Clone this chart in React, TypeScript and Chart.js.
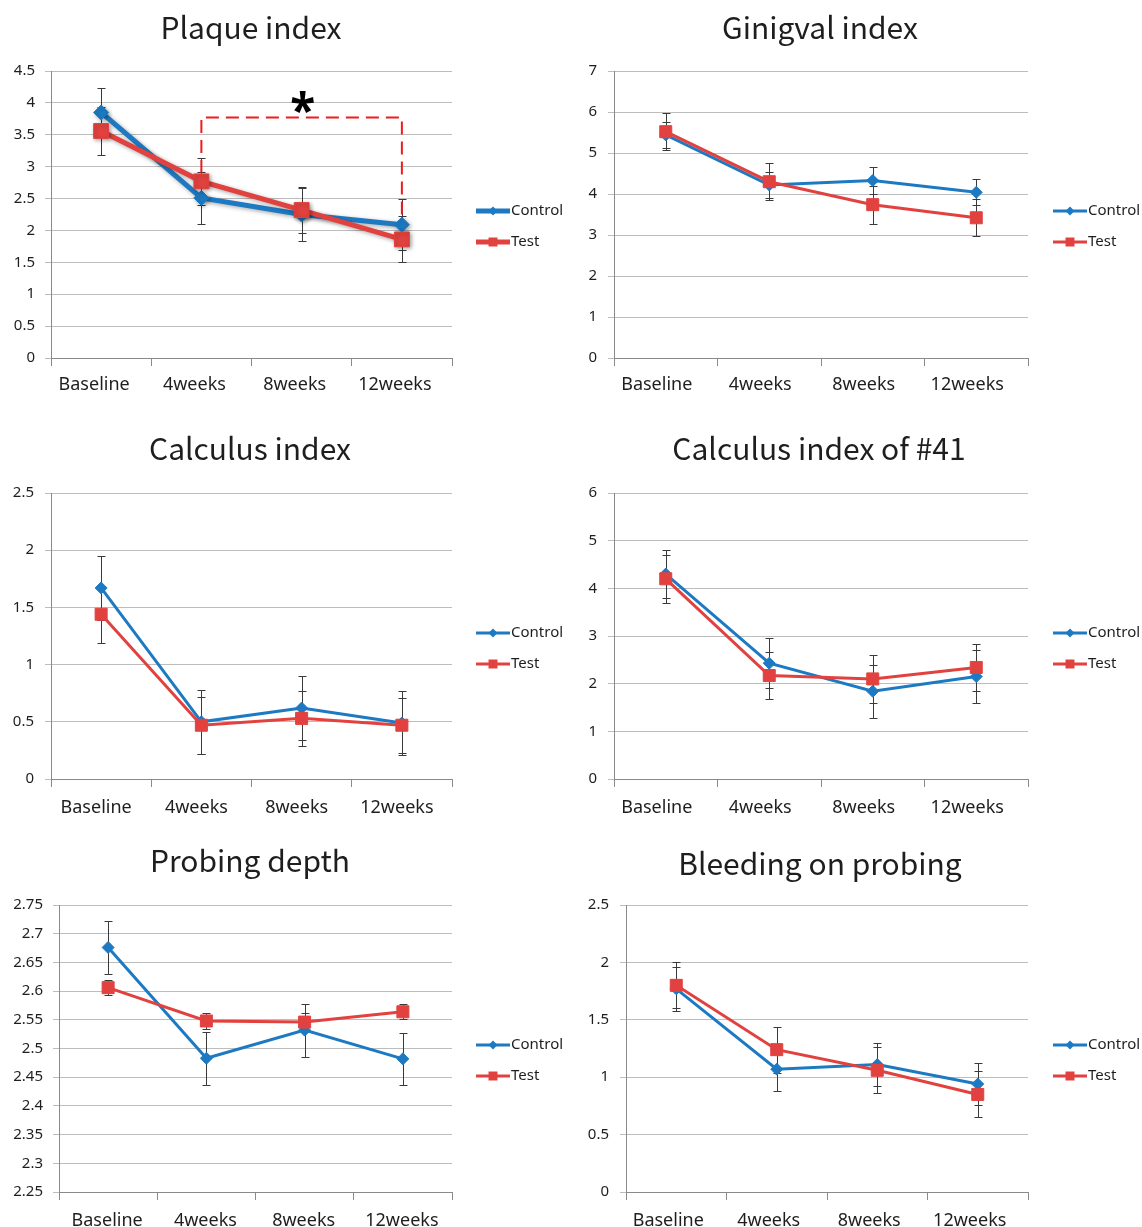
import React, { useEffect, useRef } from 'react';
import { Chart, registerables } from 'chart.js';

Chart.register(...registerables);

// ---------- data ----------
const categories = ['Baseline', '4weeks', '8weeks', '12weeks'];
const seriesNames = ['Control', 'Test'];

const plaqueControl = [3.85, 2.51, 2.25, 2.09];
const plaqueControlErr = [0.39, 0.41, 0.42, 0.4];
const plaqueTest = [3.56, 2.77, 2.32, 1.86];
const plaqueTestErr = [0.37, 0.37, 0.36, 0.36];
const plaqueTicks = [0, 0.5, 1, 1.5, 2, 2.5, 3, 3.5, 4, 4.5];

const gingivalControl = [5.44, 4.22, 4.33, 4.04];
const gingivalControlErr = [0.32, 0.32, 0.32, 0.32];
const gingivalTest = [5.52, 4.3, 3.74, 3.42];
const gingivalTestErr = [0.45, 0.45, 0.46, 0.45];
const gingivalTicks = [0, 1, 2, 3, 4, 5, 6, 7];

const calculusControl = [1.67, 0.5, 0.62, 0.49];
const calculusControlErr = [0.28, 0.28, 0.28, 0.28];
const calculusTest = [1.44, 0.47, 0.53, 0.47];
const calculusTestErr = [0.25, 0.25, 0.24, 0.24];
const calculusTicks = [0, 0.5, 1, 1.5, 2, 2.5];

const calculus41Control = [4.3, 2.43, 1.84, 2.15];
const calculus41ControlErr = [0.5, 0.52, 0.55, 0.55];
const calculus41Test = [4.2, 2.17, 2.1, 2.34];
const calculus41TestErr = [0.5, 0.5, 0.5, 0.49];
const calculus41Ticks = [0, 1, 2, 3, 4, 5, 6];

const probingControl = [2.676, 2.483, 2.532, 2.482];
const probingControlErr = [0.046, 0.046, 0.046, 0.045];
const probingTest = [2.606, 2.548, 2.546, 2.564];
const probingTestErr = [0.013, 0.014, 0.015, 0.013];
const probingTicks = [2.25, 2.3, 2.35, 2.4, 2.45, 2.5, 2.55, 2.6, 2.65, 2.7, 2.75];

const bleedingControl = [1.77, 1.07, 1.11, 0.94];
const bleedingControlErr = [0.19, 0.19, 0.19, 0.18];
const bleedingTest = [1.8, 1.24, 1.06, 0.85];
const bleedingTestErr = [0.2, 0.2, 0.2, 0.2];
const bleedingTicks = [0, 0.5, 1, 1.5, 2, 2.5];

// significance bracket on the plaque index panel (category indices and values)
const bracketCategories = [1, 3];
const bracketTopValue = 3.77;
const bracketEndValues = [2.9, 2.22];
const starCategory = 2;
const starValue = 4.0;

// ---------- styles ----------
const BLUE = '#1d7ac2';
const RED = '#e2423f';
const GRID = '#bdbdbd';
const AXIS = '#8a8a8a';
const TEXT = '#1e1e1e';
const FONT = '"Noto Sans", "Open Sans", sans-serif';
const TITLE_FONT = '"Noto Sans CJK KR", "Noto Sans", sans-serif';

type Box = { left: number; top: number; width: number; height: number };
type Area = { left: number; right: number; top: number; bottom: number };
type Panel = {
  title: string;
  control: number[];
  controlErr: number[];
  test: number[];
  testErr: number[];
  ticks: number[];
  box: Box;
  area: Area;
  titleX: number;
  titleY: number;
  legendX: number;
  legendY: number[];
  thick: boolean;
  yGap: number;
  xGap: number;
  xShift: number;
  bracket?: boolean;
};

const panels: Panel[] = [
  {
    title: 'Plaque index', control: plaqueControl, controlErr: plaqueControlErr, test: plaqueTest, testErr: plaqueTestErr,
    ticks: plaqueTicks,
    box: { left: 0, top: 0, width: 571, height: 415 }, area: { left: 51, right: 452, top: 71, bottom: 358 },
    titleX: 251, titleY: 28, legendX: 476, legendY: [211, 242], thick: true, yGap: 10, xGap: 8, xShift: -7, bracket: true,
  },
  {
    title: 'Ginigval index', control: gingivalControl, controlErr: gingivalControlErr, test: gingivalTest, testErr: gingivalTestErr,
    ticks: gingivalTicks,
    box: { left: 571, top: 0, width: 571, height: 415 }, area: { left: 614, right: 1028, top: 71, bottom: 358 },
    titleX: 820, titleY: 28, legendX: 1053, legendY: [211, 242], thick: false, yGap: 11, xGap: 8, xShift: -9,
  },
  {
    title: 'Calculus index', control: calculusControl, controlErr: calculusControlErr, test: calculusTest, testErr: calculusTestErr,
    ticks: calculusTicks,
    box: { left: 0, top: 415, width: 571, height: 415 }, area: { left: 51, right: 452, top: 493, bottom: 779 },
    titleX: 250, titleY: 449, legendX: 476, legendY: [633, 664], thick: false, yGap: 11, xGap: 10, xShift: -5,
  },
  {
    title: 'Calculus index of #41', control: calculus41Control, controlErr: calculus41ControlErr, test: calculus41Test, testErr: calculus41TestErr,
    ticks: calculus41Ticks,
    box: { left: 571, top: 415, width: 571, height: 415 }, area: { left: 614, right: 1028, top: 493, bottom: 779 },
    titleX: 819, titleY: 449, legendX: 1053, legendY: [633, 664], thick: false, yGap: 11, xGap: 10, xShift: -9,
  },
  {
    title: 'Probing depth', control: probingControl, controlErr: probingControlErr, test: probingTest, testErr: probingTestErr,
    ticks: probingTicks,
    box: { left: 0, top: 830, width: 571, height: 397 }, area: { left: 59, right: 452, top: 905, bottom: 1192 },
    titleX: 250, titleY: 861, legendX: 476, legendY: [1045, 1076], thick: false, yGap: 10, xGap: 10, xShift: -1,
  },
  {
    title: 'Bleeding on probing', control: bleedingControl, controlErr: bleedingControlErr, test: bleedingTest, testErr: bleedingTestErr,
    ticks: bleedingTicks,
    box: { left: 571, top: 830, width: 571, height: 397 }, area: { left: 626, right: 1028, top: 905, bottom: 1192 },
    titleX: 820, titleY: 864, legendX: 1053, legendY: [1045, 1076], thick: false, yGap: 11, xGap: 10, xShift: -8,
  },
];

function fmt(v: number): string {
  return String(parseFloat(v.toFixed(3)));
}

function drawMarker(ctx: CanvasRenderingContext2D, kind: 'diamond' | 'square', x: number, y: number, r: number, color: string) {
  ctx.save();
  ctx.fillStyle = color;
  ctx.beginPath();
  if (kind === 'diamond') {
    ctx.moveTo(x - r, y);
    ctx.lineTo(x, y - r);
    ctx.lineTo(x + r, y);
    ctx.lineTo(x, y + r);
    ctx.closePath();
  } else {
    ctx.rect(x - r, y - r, 2 * r, 2 * r);
  }
  ctx.fill();
  ctx.restore();
}

function makePlugin(p: Panel) {
  return {
    id: 'panelDecor',
    beforeDatasetsDraw(chart: any) {
      const ctx: CanvasRenderingContext2D = chart.ctx;
      const xs = chart.scales.x;
      const ys = chart.scales.y;
      ctx.save();
      // error bars
      ctx.strokeStyle = '#3a3a3a';
      ctx.lineWidth = 1;
      const groups: [number[], number[]][] = [[p.control, p.controlErr], [p.test, p.testErr]];
      groups.forEach(([vals, errs]) => {
        vals.forEach((v, i) => {
          const x = Math.round(xs.getPixelForValue(i)) + 0.5;
          const y1 = Math.round(ys.getPixelForValue(v + errs[i])) + 0.5;
          const y2 = Math.round(ys.getPixelForValue(v - errs[i])) + 0.5;
          ctx.beginPath();
          ctx.moveTo(x, y1);
          ctx.lineTo(x, y2);
          ctx.moveTo(x - 4, y1);
          ctx.lineTo(x + 4, y1);
          ctx.moveTo(x - 4, y2);
          ctx.lineTo(x + 4, y2);
          ctx.stroke();
        });
      });
      // significance bracket
      if (p.bracket) {
        const xa = xs.getPixelForValue(bracketCategories[0]);
        const xb = xs.getPixelForValue(bracketCategories[1]);
        const yt = ys.getPixelForValue(bracketTopValue);
        ctx.strokeStyle = '#ee1c1c';
        ctx.lineWidth = 2;
        ctx.setLineDash([13, 7]);
        ctx.beginPath();
        ctx.moveTo(xa, ys.getPixelForValue(bracketEndValues[0]));
        ctx.lineTo(xa, yt);
        ctx.lineTo(xb, yt);
        ctx.lineTo(xb, ys.getPixelForValue(bracketEndValues[1]));
        ctx.stroke();
        ctx.setLineDash([]);
      }
      ctx.restore();
    },
    beforeDatasetDraw(chart: any) {
      const ctx: CanvasRenderingContext2D = chart.ctx;
      ctx.save();
      if (p.thick) {
        ctx.shadowColor = 'rgba(0,0,0,0.35)';
        ctx.shadowBlur = 4;
        ctx.shadowOffsetX = 1.5;
        ctx.shadowOffsetY = 1.5;
      }
    },
    afterDatasetDraw(chart: any) {
      chart.ctx.restore();
    },
    afterDraw(chart: any) {
      const ctx: CanvasRenderingContext2D = chart.ctx;
      const { box } = p;
      ctx.save();
      // title
      ctx.fillStyle = TEXT;
      ctx.font = `30px ${TITLE_FONT}`;
      ctx.textAlign = 'center';
      ctx.textBaseline = 'middle';
      ctx.fillText(p.title, p.titleX - box.left, p.titleY - box.top);
      // legend
      const colors = [BLUE, RED];
      seriesNames.forEach((name, i) => {
        const x0 = p.legendX - box.left;
        const y = p.legendY[i] - box.top;
        ctx.strokeStyle = colors[i];
        ctx.lineWidth = p.thick ? 5 : 3;
        ctx.beginPath();
        ctx.moveTo(x0, y);
        ctx.lineTo(x0 + 34, y);
        ctx.stroke();
        drawMarker(ctx, i === 0 ? 'diamond' : 'square', x0 + 17, y, 4.5, colors[i]);
        ctx.fillStyle = TEXT;
        ctx.font = `15px ${FONT}`;
        ctx.textAlign = 'left';
        ctx.textBaseline = 'middle';
        ctx.fillText(name, x0 + 35, y);
      });
      // significance star
      if (p.bracket) {
        const xs = chart.scales.x;
        const ys = chart.scales.y;
        ctx.font = `bold 46px ${FONT}`;
        ctx.textAlign = 'center';
        ctx.textBaseline = 'middle';
        ctx.fillStyle = '#000';
        ctx.fillText('*', xs.getPixelForValue(starCategory) + 1, ys.getPixelForValue(starValue) + 11);
      }
      ctx.restore();
    },
  };
}

function ChartPanel({ p }: { p: Panel }) {
  const ref = useRef<HTMLCanvasElement>(null);
  useEffect(() => {
    const { box, area } = p;
    const yW = area.left - box.left;
    const padRight = box.left + box.width - area.right;
    const padTop = area.top - box.top;
    const xH = box.top + box.height - area.bottom;
    const lw = p.thick ? 5 : 3;
    const diamondR = p.thick ? 7.5 : 6;
    const squareR = p.thick ? 10.5 : 8.5;
    const yMin = p.ticks[0];
    const yMax = p.ticks[p.ticks.length - 1];
    const chart = new Chart(ref.current as HTMLCanvasElement, {
      type: 'line',
      data: {
        labels: categories,
        datasets: [
          {
            label: seriesNames[0],
            data: p.control,
            borderColor: BLUE,
            backgroundColor: BLUE,
            borderWidth: lw,
            pointStyle: 'rectRot',
            pointRadius: diamondR,
            pointBorderWidth: 1,
            pointBackgroundColor: BLUE,
            pointBorderColor: BLUE,
            tension: 0,
            order: 1,
          },
          {
            label: seriesNames[1],
            data: p.test,
            borderColor: RED,
            backgroundColor: RED,
            borderWidth: lw,
            pointStyle: 'rect',
            pointRadius: squareR,
            pointBorderWidth: 1,
            pointBackgroundColor: RED,
            pointBorderColor: RED,
            tension: 0,
            order: 0,
          },
        ],
      },
      options: {
        animation: false,
        responsive: false,
        devicePixelRatio: 1,
        events: [],
        layout: { padding: { left: 0, right: padRight, top: padTop, bottom: 0 } },
        plugins: {
          legend: { display: false },
          title: { display: false },
          tooltip: { enabled: false },
        },
        scales: {
          x: {
            type: 'category',
            offset: true,
            grid: { offset: true, drawOnChartArea: false, drawTicks: true, tickLength: 8, color: AXIS },
            border: { color: AXIS, width: 1 },
            ticks: {
              color: TEXT,
              font: { family: FONT, size: 18 },
              padding: p.xGap,
              labelOffset: p.xShift,
              maxRotation: 0,
              autoSkip: false,
            },
            afterFit: (s: any) => {
              s.height = xH;
            },
          },
          y: {
            type: 'linear',
            min: yMin,
            max: yMax,
            afterBuildTicks: (s: any) => {
              s.ticks = p.ticks.map((v) => ({ value: v }));
            },
            grid: { color: GRID, tickLength: 6, lineWidth: 1 },
            border: { color: AXIS, width: 1 },
            ticks: {
              color: TEXT,
              font: { family: FONT, size: 15 },
              padding: p.yGap,
              callback: (v: any) => fmt(Number(v)),
            },
            afterFit: (s: any) => {
              s.width = yW;
            },
          },
        },
      },
      plugins: [makePlugin(p)],
    } as any);
    return () => chart.destroy();
  }, [p]);
  return (
    <canvas
      ref={ref}
      width={p.box.width}
      height={p.box.height}
      style={{ position: 'absolute', left: p.box.left, top: p.box.top, width: p.box.width, height: p.box.height }}
    />
  );
}

export default function App() {
  return (
    <div style={{ position: 'absolute', left: 0, top: 0, width: 1142, height: 1227, background: '#fff', overflow: 'hidden' }}>
      {panels.map((p) => (
        <ChartPanel key={p.title} p={p} />
      ))}
    </div>
  );
}
